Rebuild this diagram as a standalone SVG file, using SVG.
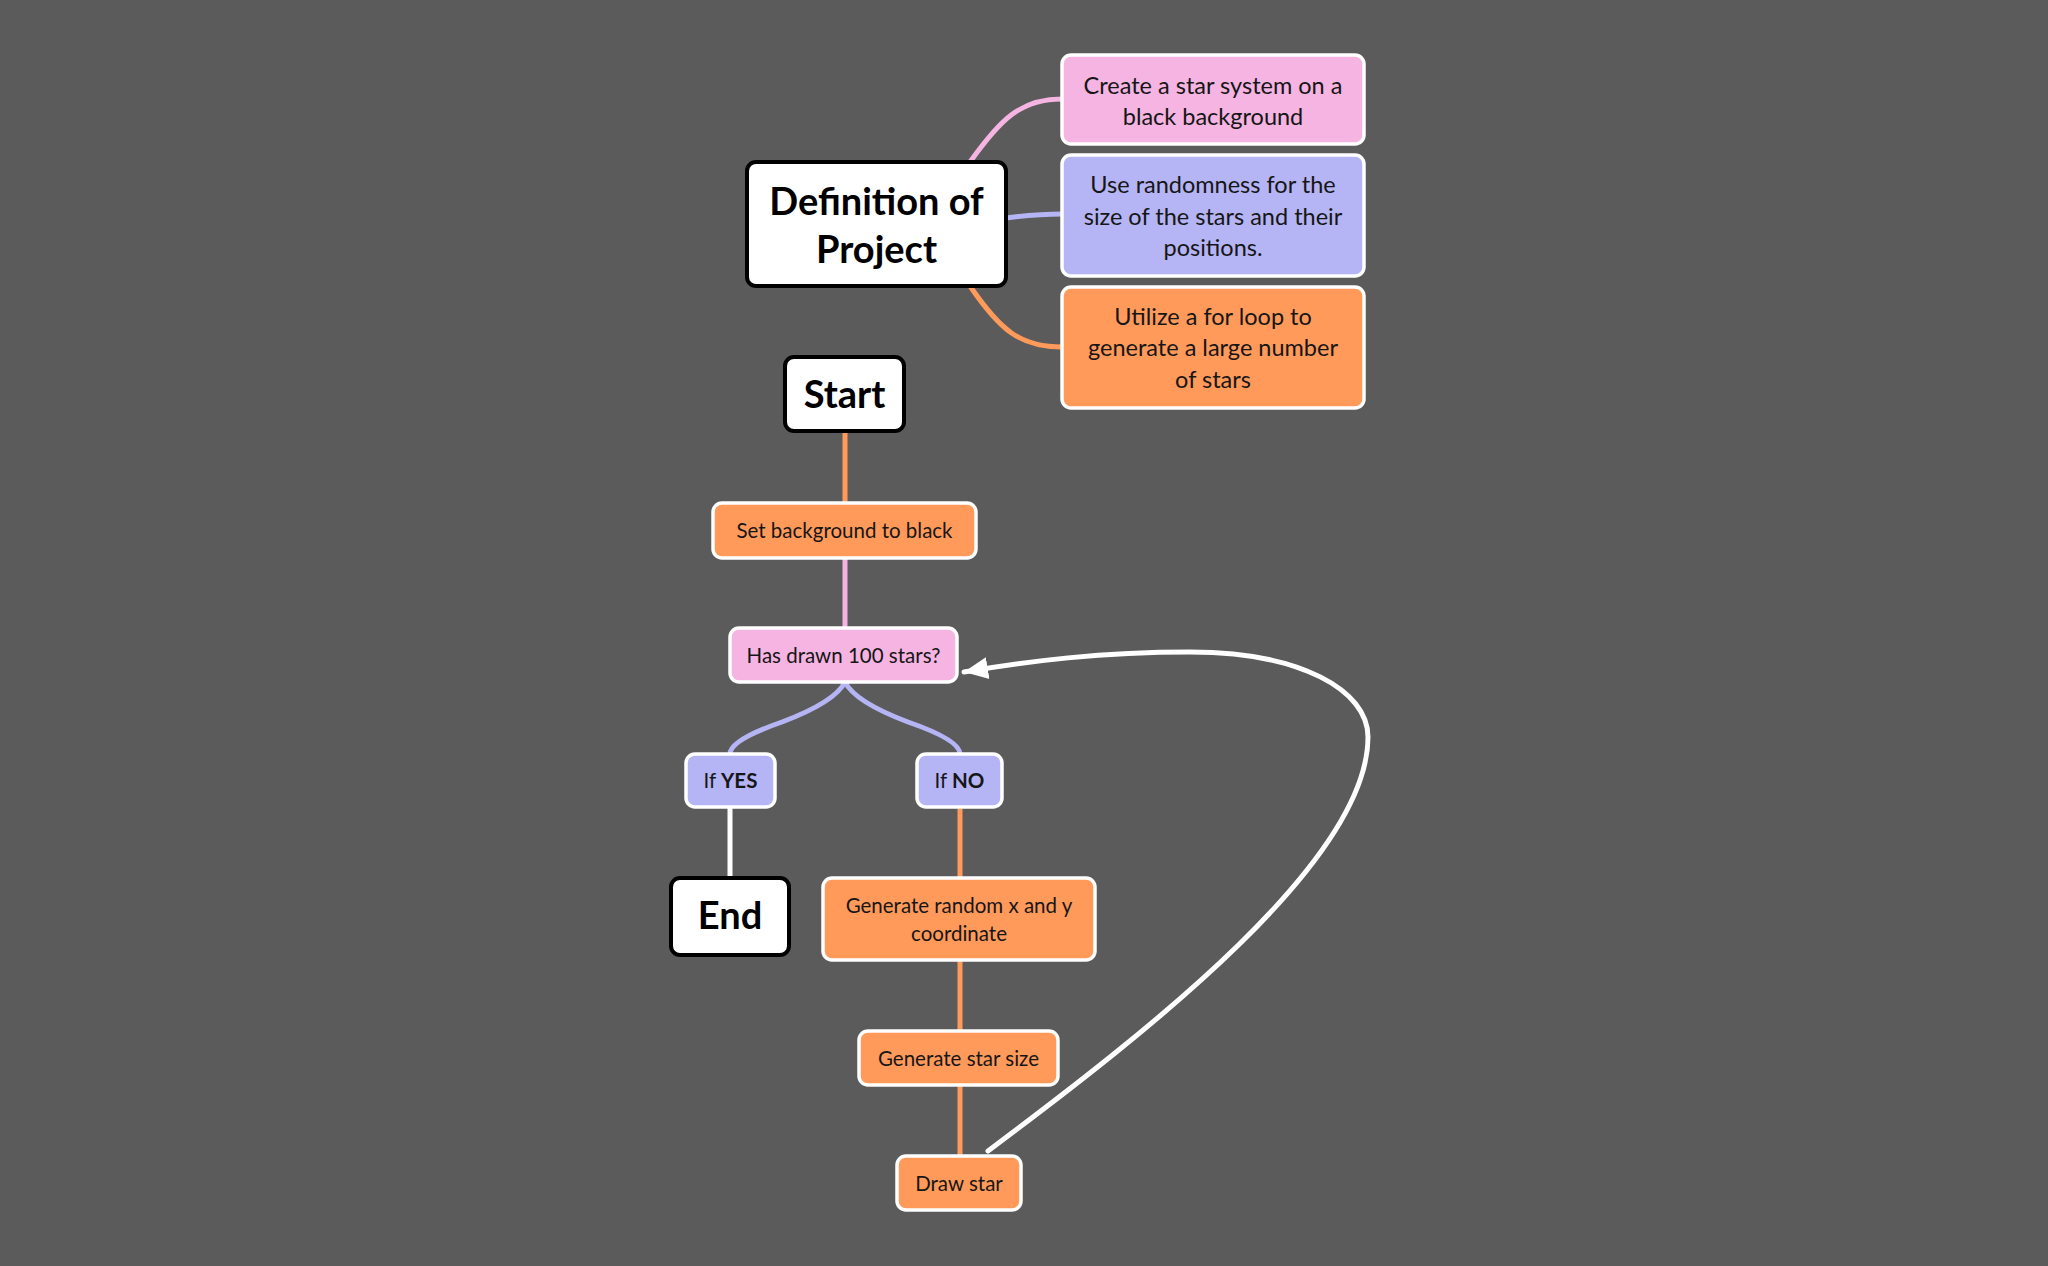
<svg xmlns="http://www.w3.org/2000/svg" width="2048" height="1266" viewBox="0 0 2048 1266">
<defs>
<style>
text{font-family:Lato,"Noto Sans","Liberation Sans",sans-serif;fill:#161616;text-anchor:middle;dominant-baseline:central}
.big{font-size:38px;font-weight:700;fill:#000}
.mid{font-size:23.5px}
.sm{font-size:20.5px}
.b{font-weight:700}
.main{fill:#fff;stroke:#000;stroke-width:4}
.pink{fill:#f5b4e1;stroke:#fff;stroke-width:3.5}
.lav{fill:#b5b4f4;stroke:#fff;stroke-width:3.5}
.org{fill:#ff9a5b;stroke:#fff;stroke-width:3.5}
.c{fill:none;stroke-width:5;stroke-linecap:round}
.cp{stroke:#f5b4e1}.cl{stroke:#b5b4f4}.co{stroke:#ff9a5b}.cw{stroke:#fff}
</style>
<marker id="arr" markerUnits="userSpaceOnUse" markerWidth="28" markerHeight="24" refX="24" refY="11" orient="auto" viewBox="0 0 28 22">
<path d="M0,0 L24,11 L0,22 Z" fill="#fff"/>
</marker>
</defs>
<rect width="2048" height="1266" fill="#5b5b5b"/>
<g id="connectors">
<path class="c cp" d="M970,162 C1000,120 1020,99 1062,99"/>
<path class="c cl" d="M1006,218 C1030,215 1045,214 1062,214"/>
<path class="c co" d="M970,286 C1000,330 1020,347 1062,347"/>
<path class="c co" d="M845,431 L845,503"/>
<path class="c cp" d="M845,558 L845,628"/>
<path class="c cl" d="M845,682 Q835,702 782,722 Q730,740 730,754"/>
<path class="c cl" d="M845,682 Q855,702 908,722 Q960,740 960,754"/>
<path class="c cw" d="M730,807 L730,878"/>
<path class="c co" d="M960,807 L960,878"/>
<path class="c co" d="M960,960 L960,1030"/>
<path class="c co" d="M960,1084 L960,1156"/>
<path class="c cw" marker-end="url(#arr)" d="M988,1151 C1150,1030 1368,860 1368,737 C1368,690 1300,652 1190,652 C1100,652 1030,661 964,672"/>
</g>
<g id="definition">
<rect class="main" x="747" y="162" width="259" height="124" rx="9"/>
<text class="big" x="876.5" y="200">Definition of</text>
<text class="big" x="876.5" y="248">Project</text>
</g>
<g id="goal1">
<rect class="pink" x="1062" y="55" width="302" height="89" rx="9"/>
<text class="mid" x="1213" y="85">Create a star system on a</text>
<text class="mid" x="1213" y="116">black background</text>
</g>
<g id="goal2">
<rect class="lav" x="1062" y="155" width="302" height="121" rx="9"/>
<text class="mid" x="1213" y="184">Use randomness for the</text>
<text class="mid" x="1213" y="216">size of the stars and their</text>
<text class="mid" x="1213" y="247">positions.</text>
</g>
<g id="goal3">
<rect class="org" x="1062" y="287" width="302" height="121" rx="9"/>
<text class="mid" x="1213" y="316">Utilize a for loop to</text>
<text class="mid" x="1213" y="347">generate a large number</text>
<text class="mid" x="1213" y="379">of stars</text>
</g>
<g id="start">
<rect class="main" x="785" y="357" width="119" height="74" rx="9"/>
<text class="big" x="844.5" y="393">Start</text>
</g>
<g id="setbg">
<rect class="org" x="713" y="503" width="263" height="55" rx="9"/>
<text class="sm" x="844.5" y="530">Set background to black</text>
</g>
<g id="check">
<rect class="pink" x="730" y="628" width="227" height="54" rx="9"/>
<text class="sm" x="843.5" y="655">Has drawn 100 stars?</text>
</g>
<g id="ifyes">
<rect class="lav" x="686" y="754" width="89" height="53" rx="9"/>
<text class="sm" x="730.5" y="780">If <tspan class="b">YES</tspan></text>
</g>
<g id="ifno">
<rect class="lav" x="917" y="754" width="85" height="53" rx="9"/>
<text class="sm" x="959.5" y="780">If <tspan class="b">NO</tspan></text>
</g>
<g id="end">
<rect class="main" x="671" y="878" width="118" height="77" rx="9"/>
<text class="big" x="730" y="914">End</text>
</g>
<g id="genxy">
<rect class="org" x="823" y="878" width="272" height="82" rx="9"/>
<text class="sm" x="959" y="905">Generate random x and y</text>
<text class="sm" x="959" y="933">coordinate</text>
</g>
<g id="gensize">
<rect class="org" x="859" y="1031" width="199" height="54" rx="9"/>
<text class="sm" x="958.5" y="1058">Generate star size</text>
</g>
<g id="draw">
<rect class="org" x="897" y="1156" width="124" height="54" rx="9"/>
<text class="sm" x="959" y="1183">Draw star</text>
</g>
</svg>
